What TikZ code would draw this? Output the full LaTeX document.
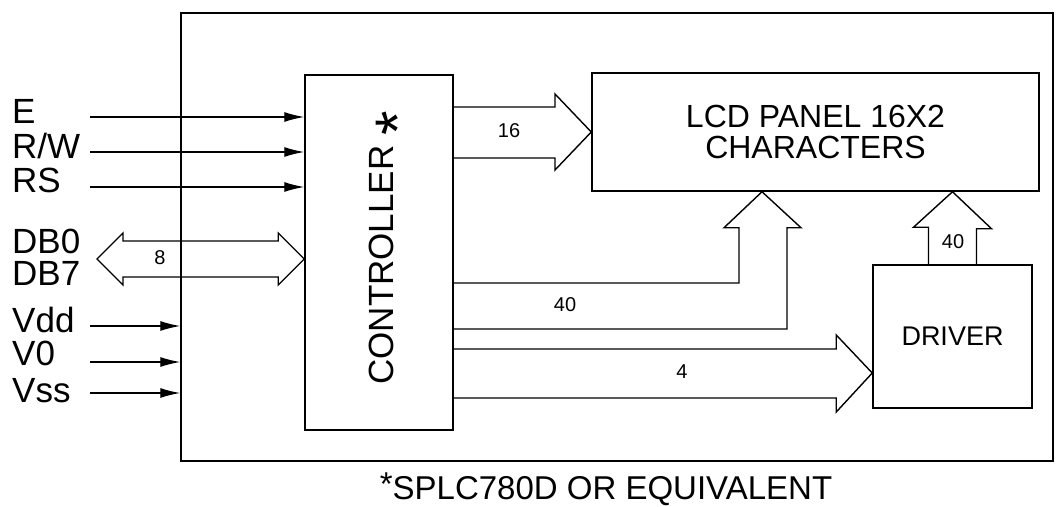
\documentclass[tikz,border=0pt]{standalone}
\usepackage{fontspec}
\setmainfont{Liberation Sans}
\usetikzlibrary{arrows.meta, positioning, calc}

\begin{document}
\begin{tikzpicture}[
  x=1pt, y=-1pt,
  blk/.style={draw, line width=1.5pt, inner sep=0pt},
  pin/.style={anchor=base west, inner sep=0pt, font=\fontsize{35}{35}\selectfont},
  sig/.style={line width=1.3pt, -{Latex[length=20pt,width=10pt]}},
  bus/.style={line width=1.4pt, line join=miter},
  num/.style={inner sep=0pt, font=\fontsize{20}{20}\selectfont}
]
\useasboundingbox (0,0) rectangle (1059,506);

\node[blk, minimum width=872pt, minimum height=448pt] (chip) at (617,237) {};
\node[blk, minimum width=148pt, minimum height=355pt] (ctrl) at (379,252.5) {};
\node[blk, minimum width=447pt, minimum height=118pt, align=center, font=\fontsize{32}{31}\selectfont] (lcd) at (815.5,132) {LCD PANEL 16X2\\CHARACTERS};
\node[blk, minimum width=159pt, minimum height=143pt, font=\fontsize{27}{27}\selectfont] (drv) at (952.5,336.5) {DRIVER};
\node[rotate=90, anchor=base, inner sep=0pt, font=\fontsize{35}{35}\selectfont] (ctrltxt) at (393,248) {CONTROLLER \raisebox{-26pt}{\scalebox{1.8}{*}}};

\node[pin] (pE) at (12,123) {E};
\node[pin] (pRW) at (12,158) {R/W};
\node[pin] (pRS) at (12,192) {RS};
\node[pin] (pDB0) at (12,253) {DB0};
\node[pin] (pDB7) at (12,285) {DB7};
\node[pin] (pVdd) at (12,332) {Vdd};
\node[pin] (pV0) at (12,365) {V0};
\node[pin] (pVss) at (12,402) {Vss};

\foreach \n/\y in {E/117, RW/152, RS/187} {
  \coordinate (in\n) at (90,\y);
  \draw[sig] (in\n) -- (in\n -| ctrl.west);
}
\foreach \n/\y in {Vdd/326, V0/362, Vss/393} {
  \coordinate (in\n) at (90,\y);
  \draw[sig] (in\n) -- (in\n -| chip.west);
}

\coordinate (dbL) at (97,259);
\coordinate (dbR) at (dbL -| ctrl.west);
\draw[bus] (dbL) -- ++(26,-26) -- ++(0,8) -- ($(dbR)+(-26,-18)$) -- ++(0,-8) -- (dbR)
  -- ++(-26,26) -- ++(0,-8) -- ($(dbL)+(26,18)$) -- ++(0,8) -- cycle;

\draw[bus] (ctrl.east |- 0,107) -- (555,107) -- (555,94) -- (lcd.west) -- (555,170) -- (555,158) -- (ctrl.east |- 0,158);

\coordinate (lcdIn) at (762,0 |- lcd.south);
\draw[bus] (ctrl.east |- 0,283) -| ($(lcdIn)+(-23,36)$) -- ++(-15,0) -- (lcdIn) -- ++(39,36) -- ++(-14,0) |- (ctrl.east |- 0,329);

\coordinate (drvIn) at (drv.west |- 0,373);
\draw[bus] (ctrl.east |- 0,349) -| ($(drvIn)+(-36,-24)$) -- ++(0,-14) -- (drvIn) -- ++(-36,39) -- ++(0,-14) |- (ctrl.east |- 0,398);

\draw[bus] ($(drv.north)+(-24,0)$) -- ++(0,-37) -- ++(-15,0) -- (drv.north |- lcd.south) -- ++(39,37) -- ++(-15,0) -- ++(0,37);

\node[num] (n16) at (509,131) {16};
\node[num] (n8) at (160,258) {8};
\node[num] (n40a) at (565,305) {40};
\node[num] (n4) at (682,372) {4};
\node[num] (n40b) at (953,242) {40};

\node[anchor=base, inner sep=0pt, font=\fontsize{33}{33}\selectfont] (note) at (606,499) {\raisebox{4pt}{*}SPLC780D OR EQUIVALENT};
\end{tikzpicture}
\end{document}
